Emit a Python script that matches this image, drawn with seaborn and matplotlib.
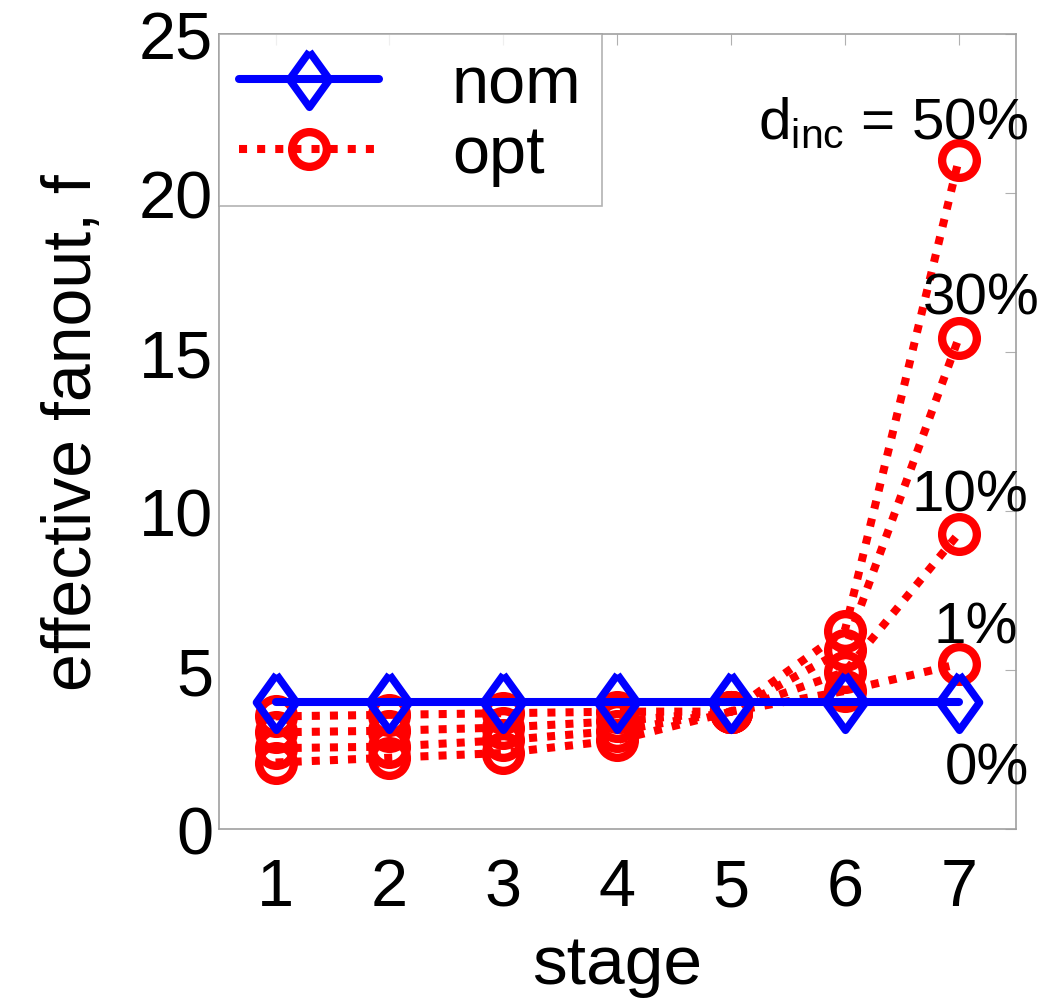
import numpy as np
import pandas as pd
import matplotlib
matplotlib.use("Agg")
import matplotlib.pyplot as plt
import seaborn as sns

sns.set_style("white")
plt.rcParams['font.family'] = ['Liberation Sans', 'DejaVu Sans']
plt.rcParams['mathtext.fontset'] = 'custom'
plt.rcParams['mathtext.rm'] = 'Liberation Sans'
plt.rcParams['mathtext.it'] = 'Liberation Sans'
plt.rcParams['text.color'] = 'black'
plt.rcParams['axes.labelcolor'] = 'black'

stages = [1, 2, 3, 4, 5, 6, 7]
nom = [4.0, 4.0, 4.0, 4.0, 4.0, 4.0, 4.0]
d_inc = ["1%", "10%", "30%", "50%"]
opt = {
    "1%":  [3.55, 3.6, 3.65, 3.7, 3.7, 4.35, 5.2],
    "10%": [3.05, 3.1, 3.2, 3.4, 3.7, 4.95, 9.3],
    "30%": [2.55, 2.6, 2.8, 3.1, 3.7, 5.65, 15.45],
    "50%": [2.1, 2.25, 2.4, 2.8, 3.7, 6.25, 21.05],
}

rows = []
for k in d_inc:
    for s, v in zip(stages, opt[k]):
        rows.append({"stage": s, "f": v, "d_inc": k})
df_opt = pd.DataFrame(rows)
df_nom = pd.DataFrame({"stage": stages, "f": nom})

fig = plt.figure(figsize=(10.46, 10.04), dpi=100)
ax = fig.add_axes([0.209, 0.173, 0.762, 0.792])

for i, k in enumerate(d_inc):
    sub = df_opt[df_opt.d_inc == k]
    sns.lineplot(data=sub, x="stage", y="f", ax=ax, color="red",
                 marker="o", markersize=25, markeredgewidth=6,
                 markerfacecolor="none", markeredgecolor="red",
                 linewidth=5.8, dashes=False,
                 label="opt" if i == 0 else None)
    ax.lines[-1].set_dashes((1.0, 1.25))
    ax.lines[-1].set_dash_capstyle("butt")

# tall diamond like the original
diamond = [(0, 1), (0.72, 0), (0, -1), (-0.72, 0), (0, 1)]
sns.lineplot(data=df_nom, x="stage", y="f", ax=ax, color="blue",
             marker=diamond, markersize=40, markeredgewidth=5.5,
             markerfacecolor="none", markeredgecolor="blue",
             linewidth=5.8, label="nom")

ax.set_xlim(0.5, 7.5)
ax.set_ylim(0, 25)
ax.set_xticks(stages)
ax.set_yticks([0, 5, 10, 15, 20, 25])
ax.tick_params(axis="both", which="both", direction="in", length=8,
               color="#b0b0b0", labelcolor="black", labelsize=48,
               top=True, right=True)
ax.tick_params(axis="x", pad=20)
ax.tick_params(axis="y", pad=4)
for sp in ax.spines.values():
    sp.set_color("#a0a0a0")
    sp.set_linewidth(1.2)

ax.set_xlabel("stage", fontsize=50, labelpad=10)
ax.set_ylabel("effective fanout, f", fontsize=49, labelpad=24)

handles, labels = ax.get_legend_handles_labels()
order = [labels.index("nom"), labels.index("opt")]
leg = ax.legend([handles[j] for j in order], [labels[j] for j in order],
                loc="upper left", fontsize=48, frameon=True, fancybox=False,
                borderaxespad=0, handlelength=2.1, handletextpad=1.1,
                borderpad=0.3, labelspacing=0.12)
leg.get_frame().set_edgecolor("#a0a0a0")
leg.get_frame().set_linewidth(1.2)

ax.text(6.42, 22.2, r"$\mathregular{d_{inc}}$ = 50%", fontsize=42,
        ha="center", va="center")
ax.text(7.2, 16.7, "30%", fontsize=42, ha="center", va="center")
ax.text(7.1, 10.5, "10%", fontsize=42, ha="center", va="center")
ax.text(7.15, 6.35, "1%", fontsize=42, ha="center", va="center")
ax.text(7.25, 1.9, "0%", fontsize=42, ha="center", va="center")

fig.savefig("out.png", dpi=100)
